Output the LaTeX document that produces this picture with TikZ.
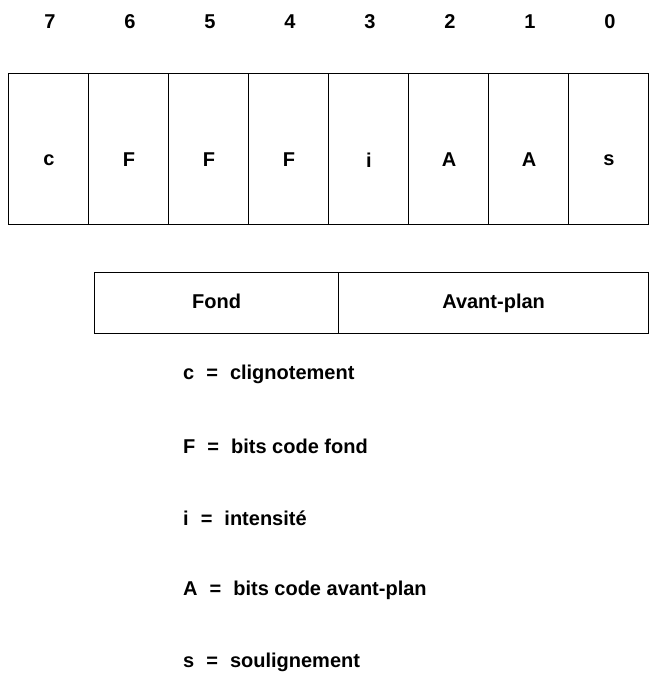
\documentclass[tikz,border=0pt]{standalone}
\usepackage{fontspec}
\setmainfont{Liberation Sans}
\begin{document}
\begin{tikzpicture}[x=1pt,y=-1pt,
  txt/.style={font=\bfseries\fontsize{20}{24}\selectfont, inner sep=0pt},
  cell/.style={draw, line width=1.2pt, minimum width=80pt, minimum height=151pt, inner sep=0pt, anchor=north west},
  band/.style={draw, line width=1.2pt, minimum height=61pt, inner sep=0pt, text height=14pt, text depth=4pt, anchor=north west, font=\bfseries\fontsize{20}{24}\selectfont},
  legend/.style={txt, anchor=west}]
\useasboundingbox[fill=white] (0,0) rectangle (649,683);
\foreach \i/\t/\n in {0/c/7,1/F/6,2/F/5,3/F/4,4/i/3,5/A/2,6/A/1,7/s/0}{
  \node[cell] (cell\i) at (8+80*\i,73) {};
  \node[txt] (bit\i) at (49+80*\i,160) {\t};
  \node[txt] (num\i) at (50+80*\i,22) {\n};
}
\node[band, minimum width=244pt] (fond) at (94,272) {Fond};
\node[band, minimum width=310pt] (avant) at (338,272) {Avant-plan};
\node[legend] (lc) at (183,374) {c\hspace{12pt}=\hspace{12pt}clignotement};
\node[legend] (lf) at (183,446) {F\hspace{12pt}=\hspace{12pt}bits code fond};
\node[legend] (li) at (183,518) {i\hspace{12pt}=\hspace{12pt}intensité};
\node[legend] (la) at (183,590) {A\hspace{12pt}=\hspace{12pt}bits code avant-plan};
\node[legend] (ls) at (183,662) {s\hspace{12pt}=\hspace{12pt}soulignement};
\end{tikzpicture}
\end{document}
